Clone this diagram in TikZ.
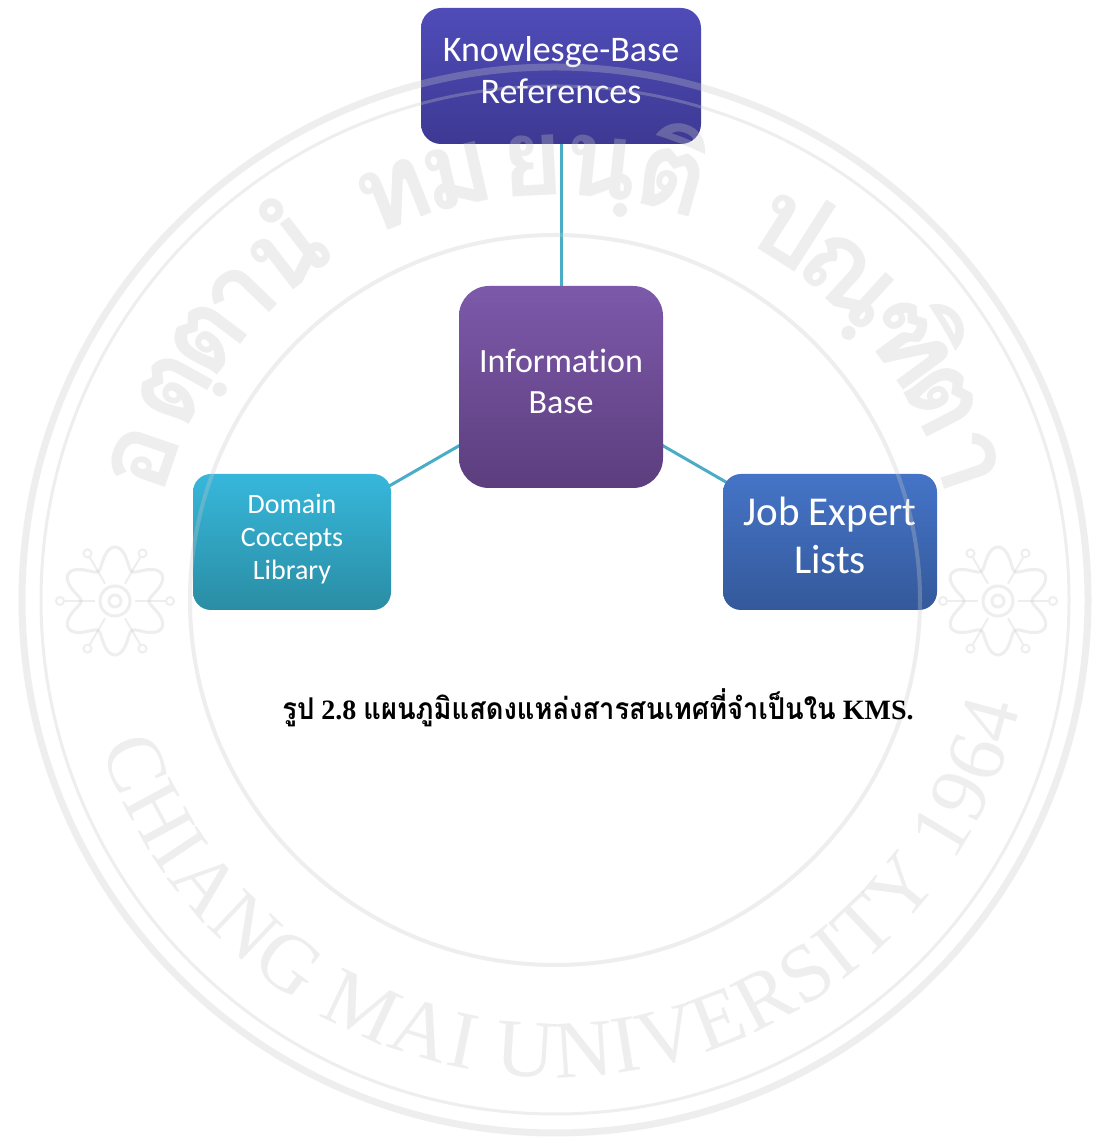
\documentclass[tikz,border=0pt]{standalone}
\usepackage{fontspec}
\setmainfont{Liberation Serif}
\newfontfamily\boxfont[Ligatures=NoCommon]{Carlito}
\newfontfamily\thaicap[Script=Thai,FakeStretch=0.91]{Loma}
\newfontfamily\thaiwm[Script=Thai,FakeStretch=1.0]{Loma}
\usetikzlibrary{calc,backgrounds,decorations.text}
\definecolor{kbtop}{HTML}{4F4CB9}
\definecolor{kbbot}{HTML}{3D3993}
\definecolor{infotop}{HTML}{7D59AA}
\definecolor{infobot}{HTML}{5C3E7E}
\definecolor{domtop}{HTML}{37B7DB}
\definecolor{dombot}{HTML}{2A8DA4}
\definecolor{jobtop}{HTML}{4574C7}
\definecolor{jobbot}{HTML}{34599B}
\definecolor{connc}{HTML}{4BACC6}
\definecolor{wmc}{HTML}{C8C8C8}
\tikzset{
  box/.style={inner sep=0pt, align=center, text=white},
  conn/.style={draw=connc, line width=3pt},
  wm/.style={draw=wmc, opacity=0.3},
  wmtext/.style={text=wmc, opacity=0.3, inner sep=0pt},
}
\begin{document}
\begin{tikzpicture}[x=1pt,y=1pt]
\useasboundingbox (0,0) rectangle (1099,1143);
% boxes
\node[box, minimum width=280pt, minimum height=136pt, rounded corners=20pt,
  top color=kbtop, bottom color=kbbot,
  font=\boxfont\fontsize{36}{42}\selectfont] (kb) at (561,1067) {Knowlesge-Base\\References\strut};
\node[box, minimum width=204pt, minimum height=202pt, rounded corners=30pt,
  top color=infotop, bottom color=infobot,
  font=\boxfont\fontsize{34}{41}\selectfont] (info) at (561,756) {Information\\Base\strut};
\node[box, minimum width=198pt, minimum height=136pt, rounded corners=18pt,
  top color=domtop, bottom color=dombot,
  font=\boxfont\fontsize{28}{33}\selectfont] (dom) at (292,601) {Domain\\Coccepts\\Library\strut};
\node[box, minimum width=214pt, minimum height=136pt, rounded corners=18pt,
  top color=jobtop, bottom color=jobbot,
  font=\boxfont\fontsize{41}{48}\selectfont] (job) at (830,601) {Job Expert\\Lists\strut};
% connectors behind the boxes
\begin{scope}[on background layer]
  \fill[white] (0,0) rectangle (1099,1143);
  \draw[conn] (info.center) -- (kb.center);
  \draw[conn] (info.center) -- (dom.center);
  \draw[conn] (info.center) -- (job.center);
\end{scope}
% watermark
\coordinate (c) at (555,543);
\draw[wm, line width=7pt] (c) circle[radius=533pt];
\draw[wm, line width=3pt] (c) circle[radius=514pt];
\draw[wm, line width=4pt] (c) circle[radius=365pt];
\begin{scope}[opacity=0.3]
\path[decorate, decoration={text along path,
   text={|\fontsize{82}{82}\selectfont|CHIANG MAI UNIVERSITY 1964},
   text color=wmc, text align={fit to path}}]
   ($(c)+(198:477)$) arc[start angle=198, end angle=347, radius=477pt];
\end{scope}
\foreach \a/\t in {161/อ,151/ตฺ,143/ต,136/า,127.6/นํ,111.7/ท,103/ม,93/ย,84/นฺ,74.5/ติ,57.6/ป,47.6/ณฺ,36.2/ฑิ,27.4/ต,18.7/า}{
  \node[wmtext, anchor=base, rotate=\a-90, font=\thaiwm\bfseries\fontsize{108}{108}\selectfont]
     at ($(c)+(\a:405)$) {\t};
}
\foreach \fx in {115,998}{
  \begin{scope}[shift={(\fx,542)}]
    \draw[wm, line width=3pt] plot[domain=0:360, samples=145, smooth cycle] (\x:{44-10*cos(6*\x)});
    \draw[wm, line width=3pt] (0,0) circle[radius=15pt];
    \draw[wm, line width=3pt] (0,0) circle[radius=6pt];
    \foreach \s in {0,60,...,300}{
      \draw[wm, line width=2pt] (\s:20) -- (\s:50);
      \draw[wm, line width=2pt] (\s:55) circle[radius=4pt];
    }
  \end{scope}
}
% caption
\node[anchor=base, inner sep=0pt, font=\fontsize{28}{32}\selectfont\bfseries] (cap) at (598,423)
  {{\thaicap\fontsize{30}{34}\selectfont รูป} 2.8 {\thaicap\fontsize{30}{34}\selectfont แผนภูมิแสดงแหล่งสารสนเทศที่จำเป็นใน} KMS.};
\end{tikzpicture}
\end{document}
